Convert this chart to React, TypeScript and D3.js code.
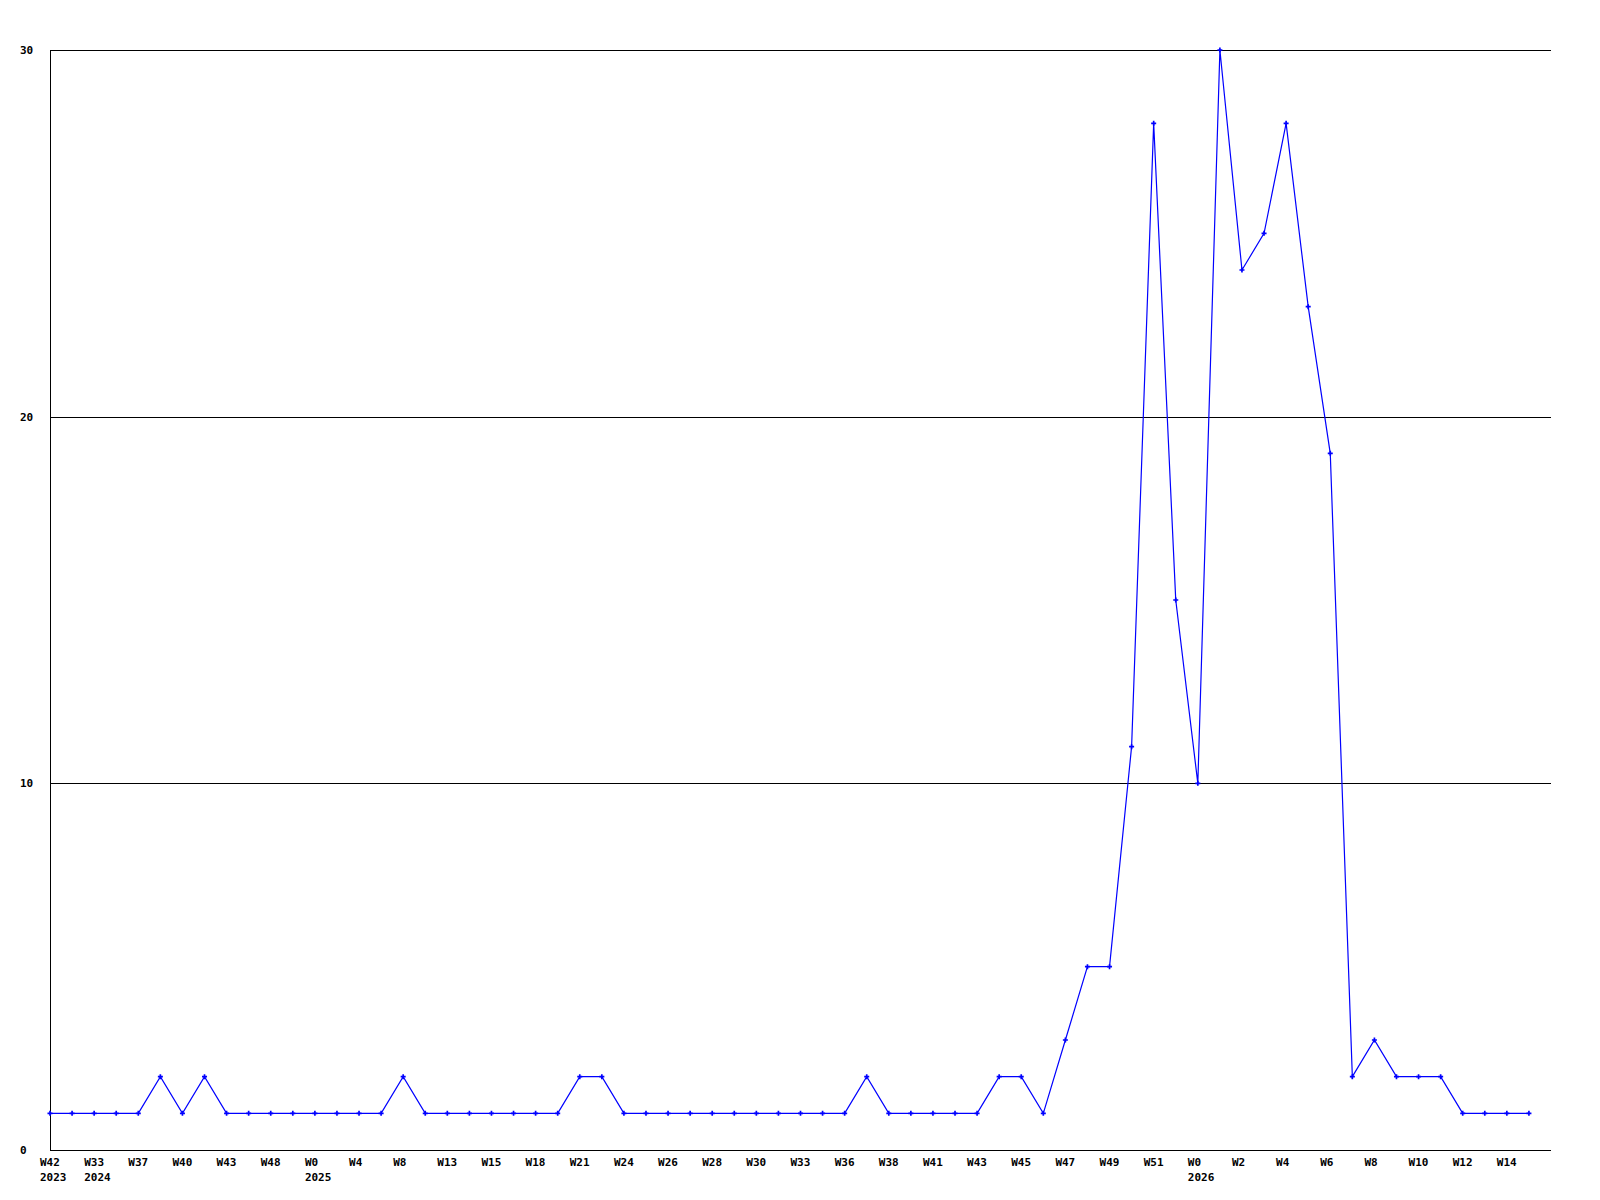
import React, {useEffect, useRef} from 'react';
import * as d3 from 'd3';

// weekly counts, one per week
const values = [1, 1, 1, 1, 1, 2, 1, 2, 1, 1, 1, 1, 1, 1, 1, 1, 2, 1, 1, 1, 1, 1, 1, 1, 2, 2, 1, 1, 1, 1, 1, 1, 1, 1, 1, 1, 1, 2, 1, 1, 1, 1, 1, 2, 2, 1, 3, 5, 5, 11, 28, 15, 10, 30, 24, 25, 28, 23, 19, 2, 3, 2, 2, 2, 1, 1, 1, 1];

// labels on every other point
const weekLabels = ['W42', 'W33', 'W37', 'W40', 'W43', 'W48', 'W0', 'W4', 'W8', 'W13', 'W15', 'W18', 'W21', 'W24', 'W26', 'W28', 'W30', 'W33', 'W36', 'W38', 'W41', 'W43', 'W45', 'W47', 'W49', 'W51', 'W0', 'W2', 'W4', 'W6', 'W8', 'W10', 'W12', 'W14'];
const yearLabels = ['2023', '2024', '', '', '', '', '2025', '', '', '', '', '', '', '', '', '', '', '', '', '', '', '', '', '', '', '', '2026', '', '', '', '', '', '', ''];

const yTicks = [0, 10, 20, 30];

function App() {
    const ref = useRef(null);
    const margin = {top: 50, right: 49, bottom: 50, left: 50};
    const width = 1600 - margin.left - margin.right;
    const height = 1200 - margin.top - margin.bottom;

    useEffect(() => {
        const svg = d3.select(ref.current);
        svg.selectAll('*').remove();
        const font = '"DejaVu Sans Mono", monospace';

        const x = d3.scaleLinear().domain([0, values.length]).range([margin.left, margin.left + width]);
        const y = d3.scaleLinear().domain([0, 30]).range([margin.top + height, margin.top]);

        // grid lines
        svg.append('g').selectAll('line')
            .data(yTicks.filter(d => d > 0))
            .enter().append('line')
            .attr('x1', margin.left).attr('x2', margin.left + width)
            .attr('y1', d => Math.round(y(d)) + 0.5).attr('y2', d => Math.round(y(d)) + 0.5)
            .style('stroke', '#000').style('shape-rendering', 'crispEdges');

        // axes
        svg.append('line')
            .attr('x1', margin.left + 0.5).attr('x2', margin.left + 0.5)
            .attr('y1', margin.top).attr('y2', margin.top + height)
            .style('stroke', '#000').style('shape-rendering', 'crispEdges');
        svg.append('line')
            .attr('x1', margin.left).attr('x2', margin.left + width)
            .attr('y1', margin.top + height + 0.5).attr('y2', margin.top + height + 0.5)
            .style('stroke', '#000').style('shape-rendering', 'crispEdges');

        // y labels
        svg.append('g').selectAll('text')
            .data(yTicks)
            .enter().append('text')
            .attr('x', 20)
            .attr('y', d => y(d))
            .attr('dy', '0.35em')
            .style('font-family', font).style('font-size', '11px').style('font-weight', 'bold')
            .text(d => d);

        // x labels
        const lab = svg.append('g');
        lab.selectAll('text.wk')
            .data(weekLabels)
            .enter().append('text')
            .attr('class', 'wk')
            .attr('x', (d, i) => x(i * 2) - 10)
            .attr('y', margin.top + height + 16)
            .style('font-family', font).style('font-size', '11px').style('font-weight', 'bold')
            .text(d => d);
        lab.selectAll('text.yr')
            .data(yearLabels)
            .enter().append('text')
            .attr('class', 'yr')
            .attr('x', (d, i) => x(i * 2) - 10)
            .attr('y', margin.top + height + 31)
            .style('font-family', font).style('font-size', '11px').style('font-weight', 'bold')
            .text(d => d);

        // line
        const line = d3.line<number>()
            .x((d, i) => x(i))
            .y(d => y(d));
        svg.append('path')
            .datum(values)
            .attr('d', line)
            .style('fill', 'none')
            .style('stroke', '#0000ff')
            .style('stroke-width', 1.2);

        // markers
        svg.append('g').selectAll('path')
            .data(values)
            .enter().append('path')
            .attr('transform', (d, i) => `translate(${x(i)},${y(d)})`)
            .attr('d', d3.symbol().type(d3.symbolCross).size(14))
            .style('fill', '#0000ff');
    }, []);

    return (
        <svg ref={ref} width={1600} height={1200}
             style={{position: 'absolute', left: 0, top: 0, background: '#fff'}}></svg>
    );
}

export default App;
